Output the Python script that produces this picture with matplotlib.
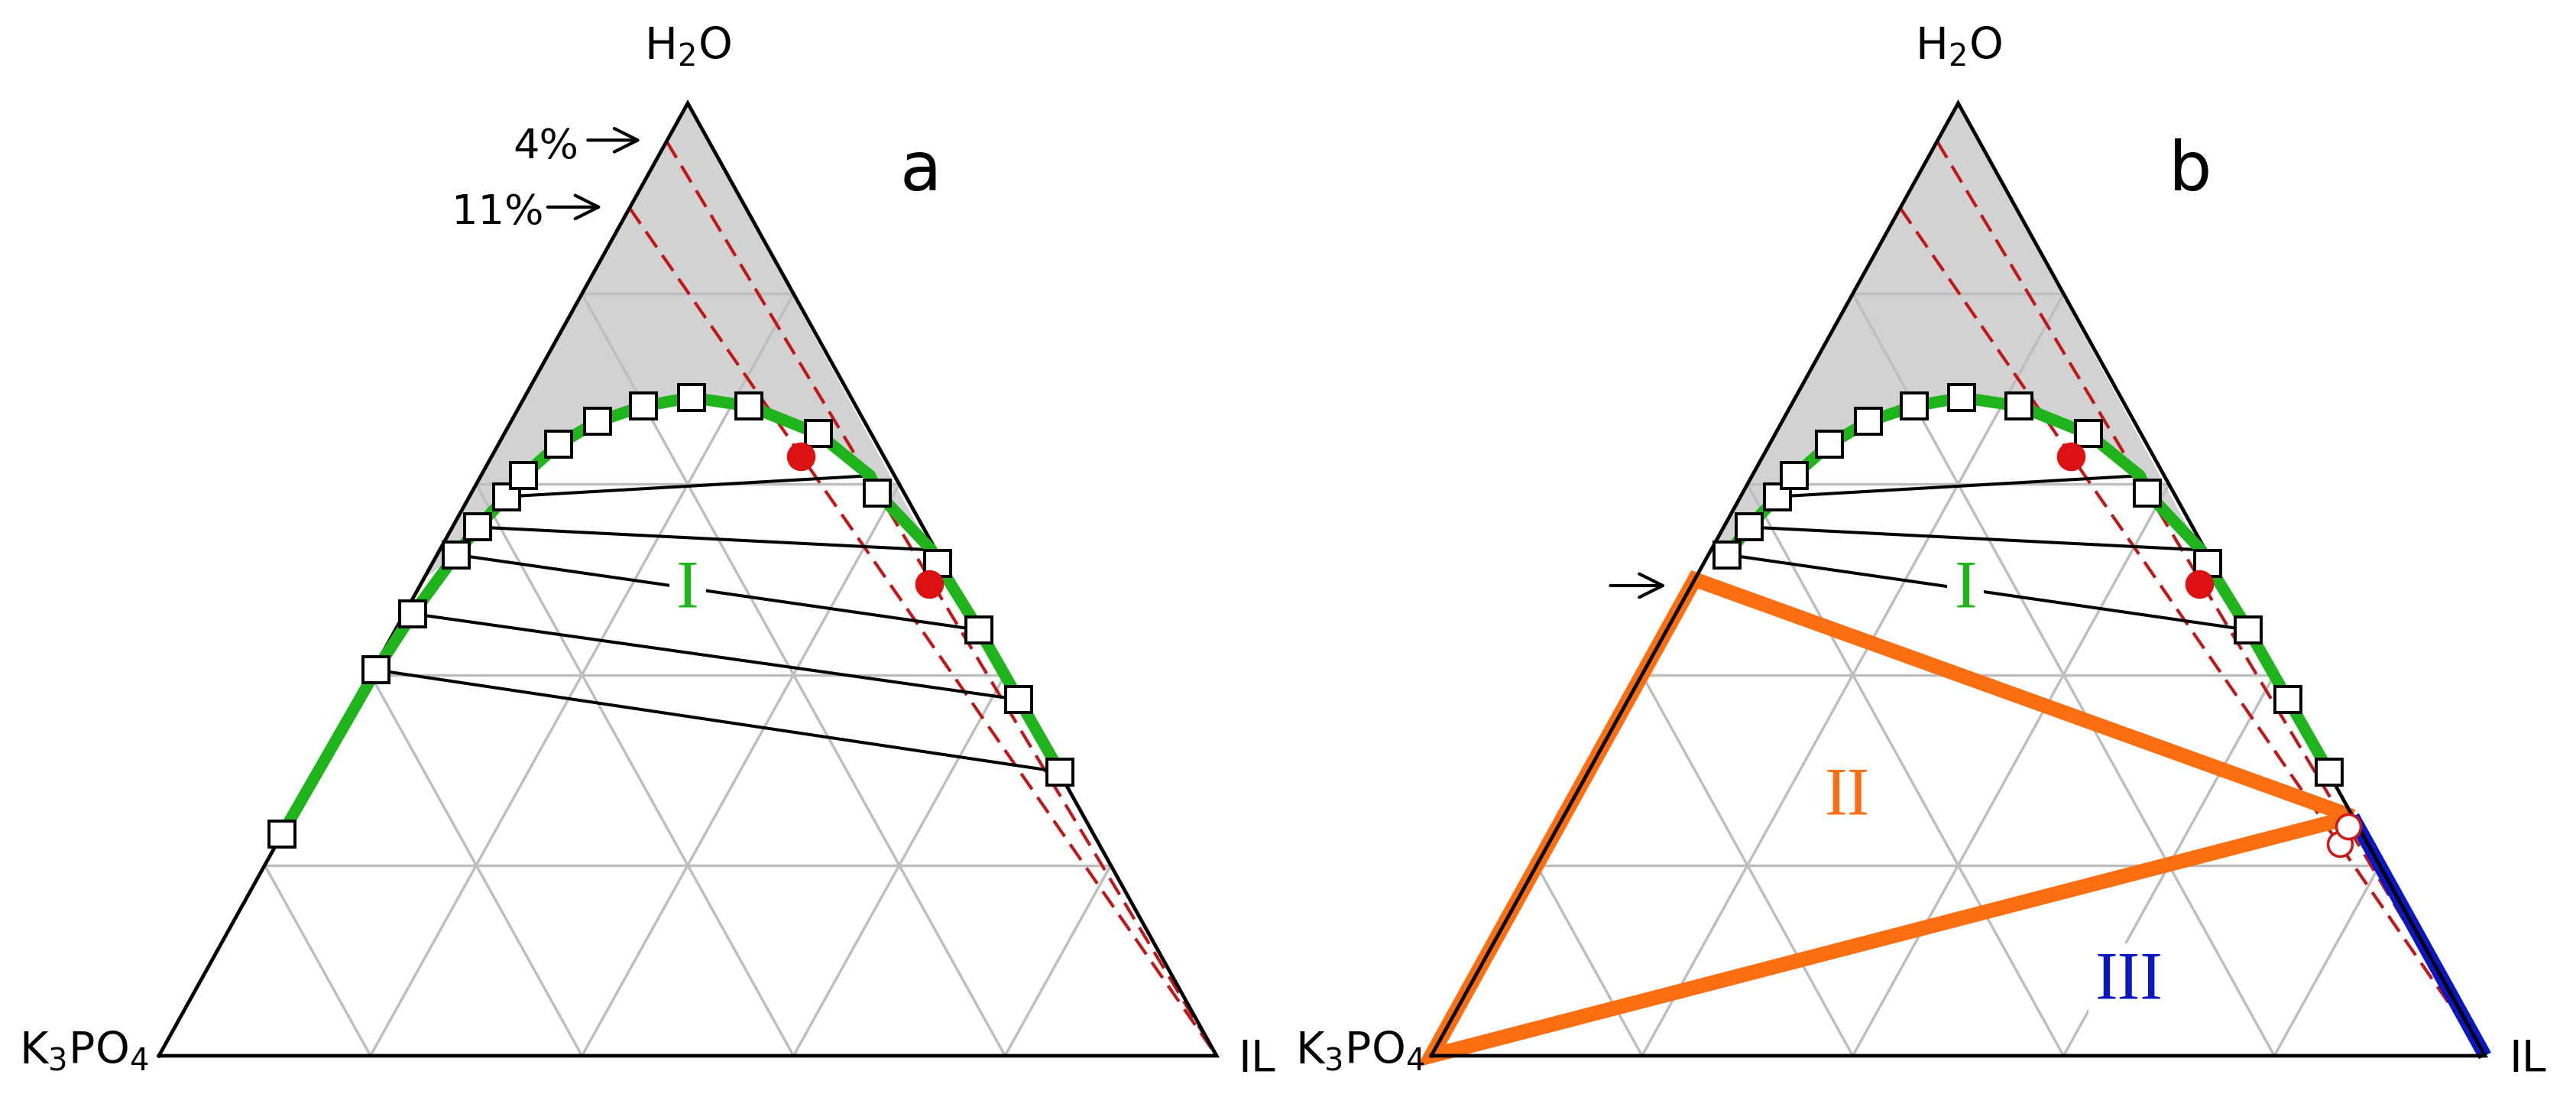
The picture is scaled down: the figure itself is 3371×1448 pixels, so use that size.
import matplotlib
matplotlib.use("Agg")
import matplotlib.pyplot as plt

sq_il = [0.000, 0.003, 0.008, 0.018, 0.024, 0.035, 0.040, 0.057, 0.082,
         0.117, 0.158, 0.217, 0.297, 0.384, 0.478, 0.552, 0.626, 0.703]
sq_water = [0.233, 0.405, 0.464, 0.526, 0.555, 0.587, 0.609, 0.642, 0.666,
            0.682, 0.691, 0.682, 0.653, 0.591, 0.517, 0.447, 0.374, 0.298]

# binodal line (squares plus the two tie-line ends lying on it)
curve_il = [0.000, 0.003, 0.008, 0.018, 0.024, 0.035, 0.040, 0.057, 0.082, 0.117,
            0.158, 0.217, 0.297, 0.368, 0.384, 0.465, 0.478, 0.552, 0.626, 0.703]
curve_water = [0.233, 0.405, 0.464, 0.526, 0.555, 0.587, 0.609, 0.642, 0.666, 0.682,
               0.691, 0.682, 0.653, 0.609, 0.591, 0.531, 0.517, 0.447, 0.374, 0.298]

# tie lines: salt-rich end -> IL-rich end
tie_l_il = [0.035, 0.024, 0.018, 0.008, 0.003]
tie_l_water = [0.587, 0.555, 0.526, 0.464, 0.405]
tie_r_il = [0.368, 0.465, 0.552, 0.626, 0.703]
tie_r_water = [0.609, 0.531, 0.447, 0.374, 0.298]

# dilution lines (salt % on the water-salt side) towards pure IL
dil_salt = [0.04, 0.11]
dil_labels = ["4%", "11%"]

# mixture points
dot_il = [0.292, 0.481]
dot_water = [0.6295, 0.495]
open_il = [0.750, 0.751]
open_water = [0.241, 0.222]

# three-phase triangle (b): IL-rich point, salt vertex, saturated salt point
tri3_il = [0.749, 0.0, 0.0, 0.749]
tri3_water = [0.251, 0.0, 0.50, 0.251]

grid_vals = [0.2, 0.4, 0.6, 0.8]

GREEN = "#1fb41b"
ORANGE = "#fb6f12"
BLUE = "#0b16c4"
RED = "#dd1111"
DRED = "#c01818"


def tern(il, w):
    return [a + b / 2 for a, b in zip(il, w)], list(w)


def panel(ax, b=False):
    ax.set_xlim(0, 1)
    ax.set_ylim(0, 1)
    ax.axis("off")

    # one-phase region shading
    n0 = 3
    shade_il = [0.0, 0.0] + sq_il[n0:13] + [curve_il[13], sq_il[13], curve_il[15], sq_il[14], 0.0]
    shade_w = [1.0, 0.50 if not b else 0.53] + sq_water[n0:13] + [curve_water[13], sq_water[13],
                                                                  curve_water[15], sq_water[14], 1.0]
    x, y = tern(shade_il, shade_w)
    ax.fill(x, y, facecolor="#d2d2d2", edgecolor="none", zorder=0.5)

    # grid
    for g in grid_vals:
        ax.plot([g / 2, 1 - g / 2], [g, g], color="#bebebe", lw=2.5, zorder=1)
        ax.plot([g, g + (1 - g) / 2], [0, 1 - g], color="#bebebe", lw=2.5, zorder=1)
        ax.plot([1 - g, (1 - g) / 2], [0, 1 - g], color="#bebebe", lw=2.5, zorder=1)

    # dilution lines
    for s in dil_salt:
        x, y = tern([0.0, 1.0], [1 - s, 0.0])
        ax.plot(x, y, color=DRED, lw=3.0, dashes=(6, 3), zorder=1.5, clip_on=False)

    if b:
        x, y = tern(tri3_il, tri3_water)
        ax.plot(x, y, color=ORANGE, lw=14, solid_joinstyle="miter", solid_capstyle="butt",
                zorder=2, clip_on=False)
        x, y = tern([tri3_il[0], 1.0], [tri3_water[0], 0.0])
        ax.plot(x, y, color=BLUE, lw=13, solid_capstyle="butt", zorder=2, clip_on=False)

    # triangle frame
    ax.plot([0, 1, 0.5, 0], [0, 0, 1, 0], color="black", lw=3.4, zorder=3,
            solid_joinstyle="miter", clip_on=False)

    first = 3 if b else 0
    ntie = 3 if b else 5
    for i in range(ntie):
        x, y = tern([tie_l_il[i], tie_r_il[i]], [tie_l_water[i], tie_r_water[i]])
        ax.plot(x, y, color="black", lw=2.9, zorder=3.5)

    x, y = tern(curve_il[first:], curve_water[first:])
    ax.plot(x, y, color=GREEN, lw=11, zorder=4, solid_joinstyle="round",
            solid_capstyle="butt", clip_on=False)

    x, y = tern(sq_il[first:], sq_water[first:])
    ax.plot(x, y, "s", ms=25, mfc="white", mec="black", mew=2.8, zorder=5, clip_on=False)

    x, y = tern(dot_il, dot_water)
    ax.plot(x, y, "o", ms=26, color=RED, mec=RED, zorder=6)

    if b:
        x, y = tern(open_il, open_water)
        ax.plot(x[::-1], y[::-1], "o", ms=23, mfc="white", mec="#cc1a1a", mew=2.6,
                zorder=6, clip_on=False)

    # corner labels
    ax.text(0.5, 1.0457, "H$_2$O", fontsize=41, ha="center", va="baseline")
    ax.text(-0.0094 if not b else -0.0058, -0.0088, "K$_3$PO$_4$", fontsize=41,
            ha="right", va="baseline")
    ax.text(1.0202 if not b else 1.0225, -0.0169, "IL", fontsize=41, ha="left", va="baseline")

    ax.text(0.72, 0.928, "b" if b else "a", fontsize=64, ha="center", va="center")

    ax.text(0.50 if not b else 0.507, 0.489, "I", fontsize=64, color=GREEN,
            family="Liberation Serif", ha="center", va="center", zorder=7,
            bbox=dict(boxstyle="square,pad=0.1", fc="white", ec="none"))
    if b:
        ax.text(0.395, 0.271, "II", fontsize=64, color=ORANGE, family="Liberation Serif",
                ha="center", va="center", zorder=7)
        ax.text(0.662, 0.078, "III", fontsize=64, color=BLUE, family="Liberation Serif",
                ha="center", va="center", zorder=7,
                bbox=dict(boxstyle="square,pad=0.1", fc="white", ec="none"))
        ax.annotate("", xy=(0.225, 0.4936), xytext=(0.168, 0.4936),
                    arrowprops=dict(arrowstyle="->", lw=3.0, color="black", mutation_scale=55))
    else:
        ax.text(0.397, 0.9425, dil_labels[0], fontsize=39, ha="right", va="baseline")
        ax.annotate("", xy=(0.458, 0.9612), xytext=(0.4035, 0.9612),
                    arrowprops=dict(arrowstyle="->", lw=3.0, color="black", mutation_scale=55))
        ax.text(0.364, 0.873, dil_labels[1], fontsize=39, ha="right", va="baseline")
        ax.annotate("", xy=(0.421, 0.891), xytext=(0.3656, 0.891),
                    arrowprops=dict(arrowstyle="->", lw=3.0, color="black", mutation_scale=55))


fig = plt.figure(figsize=(33.71, 14.48), dpi=100)
ax1 = fig.add_axes([208 / 3371, 67 / 1448, 1384 / 3371, 1246 / 1448])
ax2 = fig.add_axes([1873 / 3371, 67 / 1448, 1379 / 3371, 1246 / 1448])
panel(ax1)
panel(ax2, b=True)
fig.savefig("out.png", dpi=100, facecolor="white")
